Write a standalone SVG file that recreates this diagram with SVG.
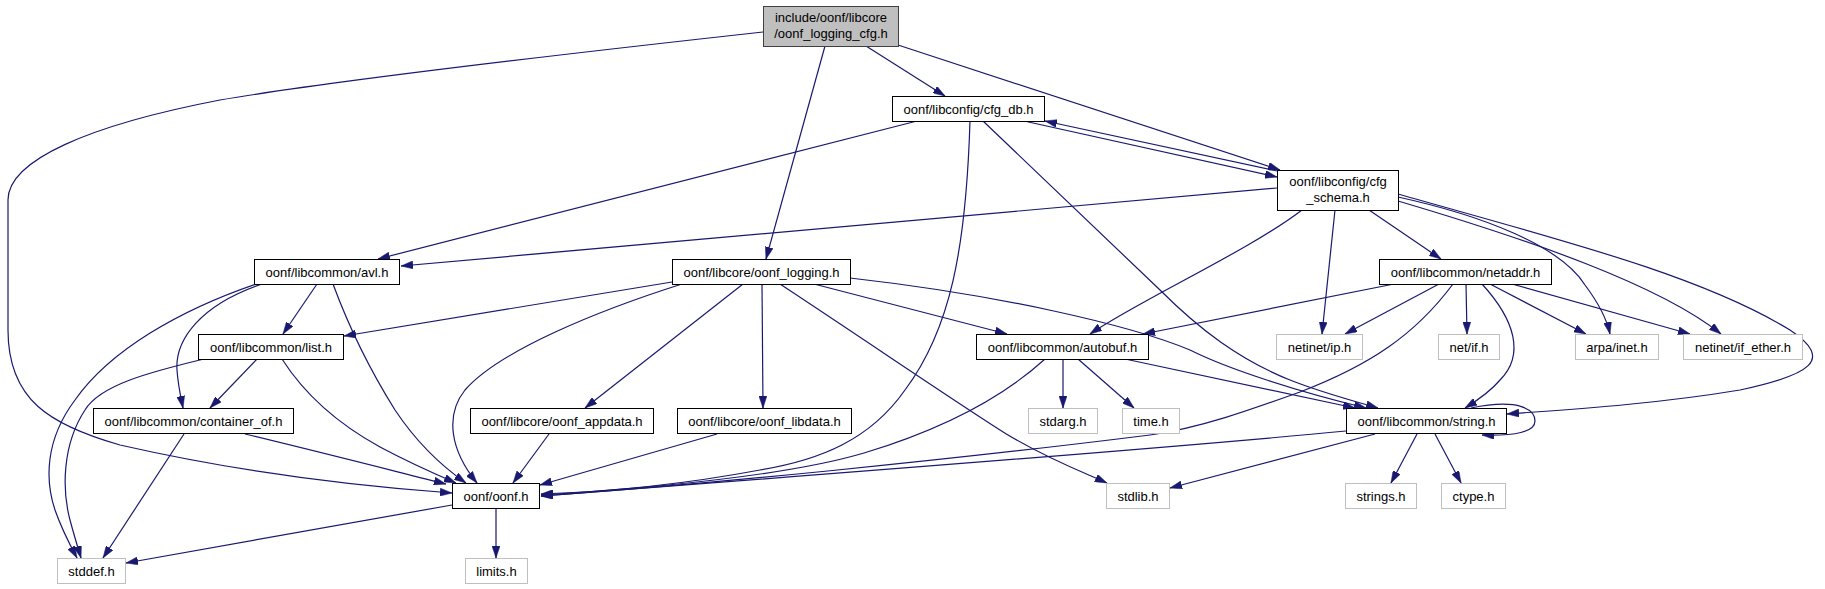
<svg xmlns="http://www.w3.org/2000/svg" width="1825" height="589" viewBox="0 0 1825 589">
<style>
.n rect{fill:#fff;stroke:#000;stroke-width:1}
.g rect{fill:#fff;stroke:#bfbfbf;stroke-width:1}
.r rect{fill:#bfbfbf;stroke:#404040;stroke-width:1}
text{font-family:"Liberation Sans",Arial,sans-serif;font-size:13px;text-anchor:middle;fill:#000}
#edges path{fill:none;stroke:#191970;stroke-width:1.2;marker-end:url(#a)}
</style>
<defs>
<marker id="a" viewBox="0 0 12 8" refX="12" refY="4" markerWidth="12" markerHeight="8" orient="auto" markerUnits="userSpaceOnUse">
<path d="M0,0 L12,4 L0,8 z" fill="#191970" stroke="#191970" stroke-width="0.5"/>
</marker>
</defs>
<rect width="1825" height="589" fill="#fff"/>
<g id="edges">
<path d="M763,32 C600,50 350,78 220,100 C90,125 8,160 8,200 L8,330 C8,400 50,425 120,445 C230,470 340,485 452,493"/>
<path d="M866,46 L945,96"/>
<path d="M898,45 L1280,170"/>
<path d="M825,46 L766,259"/>
<path d="M1024,121 L1277,177"/>
<path d="M1277,171 L1045,121"/>
<path d="M917,121 L378,259"/>
<path d="M970,121 C966,250 950,330 905,390 C870,440 820,460 760,470 C680,485 600,492 541,494"/>
<path d="M983,121 L1160,290 C1200,330 1240,360 1290,380 C1320,392 1350,400 1378,408"/>
<path d="M1277,188 L401,266"/>
<path d="M1302,210 C1250,250 1140,300 1090,334"/>
<path d="M1335,210 L1322,334"/>
<path d="M1369,210 L1441,259"/>
<path d="M1398,197 C1480,215 1560,245 1585,285 C1600,305 1607,320 1610,334"/>
<path d="M1398,201 C1530,240 1660,285 1721,334"/>
<path d="M1398,194 C1560,240 1700,275 1790,330 C1835,360 1810,375 1740,390 C1650,405 1560,410 1507,414"/>
<path d="M317,284 L283,334"/>
<path d="M262,284 C200,305 175,340 177,370 C178,385 181,398 183,408"/>
<path d="M256,284 C180,310 110,350 75,400 C45,440 45,480 55,510 C62,530 70,545 77,558"/>
<path d="M333,284 C350,330 370,370 395,410 C415,440 440,465 466,483"/>
<path d="M682,284 C600,310 500,350 465,390 C445,415 450,450 477,483"/>
<path d="M672,282 L344,336"/>
<path d="M743,284 L585,408"/>
<path d="M762,284 L763,408"/>
<path d="M780,284 C880,350 960,405 1008,435 C1050,460 1085,473 1107,483"/>
<path d="M814,284 L1007,334"/>
<path d="M850,278 C1000,295 1130,325 1190,350 C1230,370 1300,392 1366,408"/>
<path d="M1063,359 L1063,408"/>
<path d="M1078,359 L1134,408"/>
<path d="M1125,359 L1355,408"/>
<path d="M1045,359 C1000,400 940,430 864,453 C780,478 620,490 541,495"/>
<path d="M1394,284 L1143,334"/>
<path d="M1439,284 L1345,334"/>
<path d="M1466,284 L1467,334"/>
<path d="M1482,284 C1515,320 1525,355 1500,380 C1490,392 1478,400 1465,408"/>
<path d="M1490,284 L1586,334"/>
<path d="M1512,284 L1690,334"/>
<path d="M1453,284 C1415,335 1370,365 1300,392 C1250,410 1200,428 1150,435 C950,460 700,485 541,496"/>
<path d="M1346,431 C1150,450 750,480 541,496"/>
<path d="M1375,434 L1170,488"/>
<path d="M1417,434 L1391,483"/>
<path d="M1435,434 L1461,483"/>
<path d="M1471,408 C1520,398 1535,410 1535,421 C1535,432 1515,436 1482,435"/>
<path d="M452,505 L126,563"/>
<path d="M496,508 L496,558"/>
<path d="M184,434 L103,558"/>
<path d="M245,434 C320,452 390,470 446,484"/>
<path d="M257,359 L210,408"/>
<path d="M282,359 C305,395 340,425 380,447 C410,463 435,474 456,483"/>
<path d="M204,359 C150,372 100,385 85,410 C62,445 62,490 70,520 C74,535 78,548 81,558"/>
<path d="M549,434 L513,483"/>
<path d="M717,434 L540,485"/>
</g>
<g id="root" class="r"><rect x="763.5" y="6.5" width="135" height="40"/><text x="831" y="21.5">include/oonf/libcore</text><text x="831" y="37.5">/oonf_logging_cfg.h</text></g>
<g id="cfg_db" class="n"><rect x="892.5" y="96.5" width="152" height="25"/><text x="968.5" y="113.5">oonf/libconfig/cfg_db.h</text></g>
<g id="cfg_schema" class="n"><rect x="1277.5" y="170.5" width="121" height="40"/><text x="1338" y="186">oonf/libconfig/cfg</text><text x="1338" y="202">_schema.h</text></g>
<g id="avl" class="n"><rect x="254.5" y="259.5" width="145" height="25"/><text x="327" y="276.5">oonf/libcommon/avl.h</text></g>
<g id="oonf_logging" class="n"><rect x="672.5" y="259.5" width="178" height="25"/><text x="761.5" y="276.5">oonf/libcore/oonf_logging.h</text></g>
<g id="netaddr" class="n"><rect x="1379.5" y="259.5" width="172" height="25"/><text x="1465.5" y="276.5">oonf/libcommon/netaddr.h</text></g>
<g id="list" class="n"><rect x="198.5" y="334.5" width="145" height="25"/><text x="271" y="351.5">oonf/libcommon/list.h</text></g>
<g id="autobuf" class="n"><rect x="976.5" y="334.5" width="172" height="25"/><text x="1062.5" y="351.5">oonf/libcommon/autobuf.h</text></g>
<g id="netinet_ip" class="g"><rect x="1276.5" y="334.5" width="86" height="25"/><text x="1319.5" y="351.5">netinet/ip.h</text></g>
<g id="net_if" class="g"><rect x="1438.5" y="334.5" width="61" height="25"/><text x="1469" y="351.5">net/if.h</text></g>
<g id="arpa_inet" class="g"><rect x="1575.5" y="334.5" width="83" height="25"/><text x="1617" y="351.5">arpa/inet.h</text></g>
<g id="if_ether" class="g"><rect x="1683.5" y="334.5" width="119" height="25"/><text x="1743" y="351.5">netinet/if_ether.h</text></g>
<g id="container_of" class="n"><rect x="93.5" y="408.5" width="200" height="25"/><text x="193.5" y="425.5">oonf/libcommon/container_of.h</text></g>
<g id="appdata" class="n"><rect x="470.5" y="408.5" width="183" height="25"/><text x="562" y="425.5">oonf/libcore/oonf_appdata.h</text></g>
<g id="libdata" class="n"><rect x="677.5" y="408.5" width="174" height="25"/><text x="764.5" y="425.5">oonf/libcore/oonf_libdata.h</text></g>
<g id="stdarg" class="g"><rect x="1028.5" y="408.5" width="69" height="25"/><text x="1063" y="425.5">stdarg.h</text></g>
<g id="time" class="g"><rect x="1122.5" y="408.5" width="57" height="25"/><text x="1151" y="425.5">time.h</text></g>
<g id="string" class="n"><rect x="1346.5" y="408.5" width="160" height="25"/><text x="1426.5" y="425.5">oonf/libcommon/string.h</text></g>
<g id="oonf" class="n"><rect x="452.5" y="483.5" width="87" height="25"/><text x="496" y="500.5">oonf/oonf.h</text></g>
<g id="stdlib" class="g"><rect x="1106.5" y="483.5" width="63" height="25"/><text x="1138" y="500.5">stdlib.h</text></g>
<g id="strings" class="g"><rect x="1345.5" y="483.5" width="71" height="25"/><text x="1381" y="500.5">strings.h</text></g>
<g id="ctype" class="g"><rect x="1441.5" y="483.5" width="64" height="25"/><text x="1473.5" y="500.5">ctype.h</text></g>
<g id="stddef" class="g"><rect x="57.5" y="558.5" width="68" height="25"/><text x="91.5" y="575.5">stddef.h</text></g>
<g id="limits" class="g"><rect x="465.5" y="558.5" width="62" height="25"/><text x="496.5" y="575.5">limits.h</text></g>
</svg>
